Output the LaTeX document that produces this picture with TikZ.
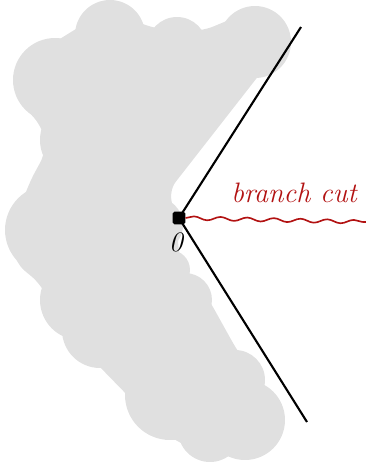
\documentclass[tikz,border=0pt]{standalone}
\usepackage{tikz}
\usetikzlibrary{decorations.pathmorphing}
\definecolor{cutred}{RGB}{178,18,18}
\definecolor{blobgray}{RGB}{224,224,224}
\tikzset{
  blb/.style={fill=blobgray,draw=none},
  ray/.style={draw=black,line width=1.8pt},
  org/.style={rectangle,rounded corners=1.5pt,fill=black,minimum size=3.8mm,inner sep=0pt},
  cut/.style={draw=cutred,line width=1.4pt,decorate,decoration={snake,segment length=0.8cm,amplitude=0.55mm}},
  lbc/.style={text=cutred,font=\fontsize{24}{27}\selectfont\itshape},
  lbo/.style={font=\fontsize{24}{26}\selectfont\itshape},
}
\begin{document}
\begin{tikzpicture}[x=0.03cm,y=-0.03cm]
\useasboundingbox (0,0) rectangle (366,469);
% ---- the grey region
\fill[blb,rounded corners=12pt] (25,85) -- (50,45) -- (110,8) -- (150,28) -- (200,32) -- (258,8)
  -- (288,38) -- (167,193) -- (175,210) -- (180,262) -- (208,298) -- (238,352)
  -- (272,400) -- (278,438) -- (250,458) -- (178,444) -- (132,400) -- (97,364)
  -- (62,330) -- (42,285) -- (14,262) -- (12,235) -- (28,185) -- (47,150)
  -- (42,125) -- (24,108) -- cycle;
\foreach \cx/\cy/\r in {55/80/42, 110/35/35, 177/47/30, 255/42/36, 80/140/40,
    50/230/45, 80/300/40, 100/330/38, 165/320/45, 170/395/45, 235/380/30,
    245/420/40, 210/430/32, 155/225/28, 170/270/20, 120/100/50, 115/250/60,
    185/300/27}
  \fill[blb] (\cx,\cy) circle (\r);
% ---- origin, rays and cut
\node[org] (o) at (179,218) {};
\coordinate (up) at (301,27);
\coordinate (dn) at (307,422);
\coordinate (ce) at (366,222);
\draw[ray] (o.center) -- (up);
\draw[ray] (o.center) -- (dn);
\draw[cut] (o.east) -- (ce);
\node[lbo] (ol) at (176,242) {0};
\node[lbc] (cl) at (294,193) {branch cut};
\end{tikzpicture}
\end{document}
